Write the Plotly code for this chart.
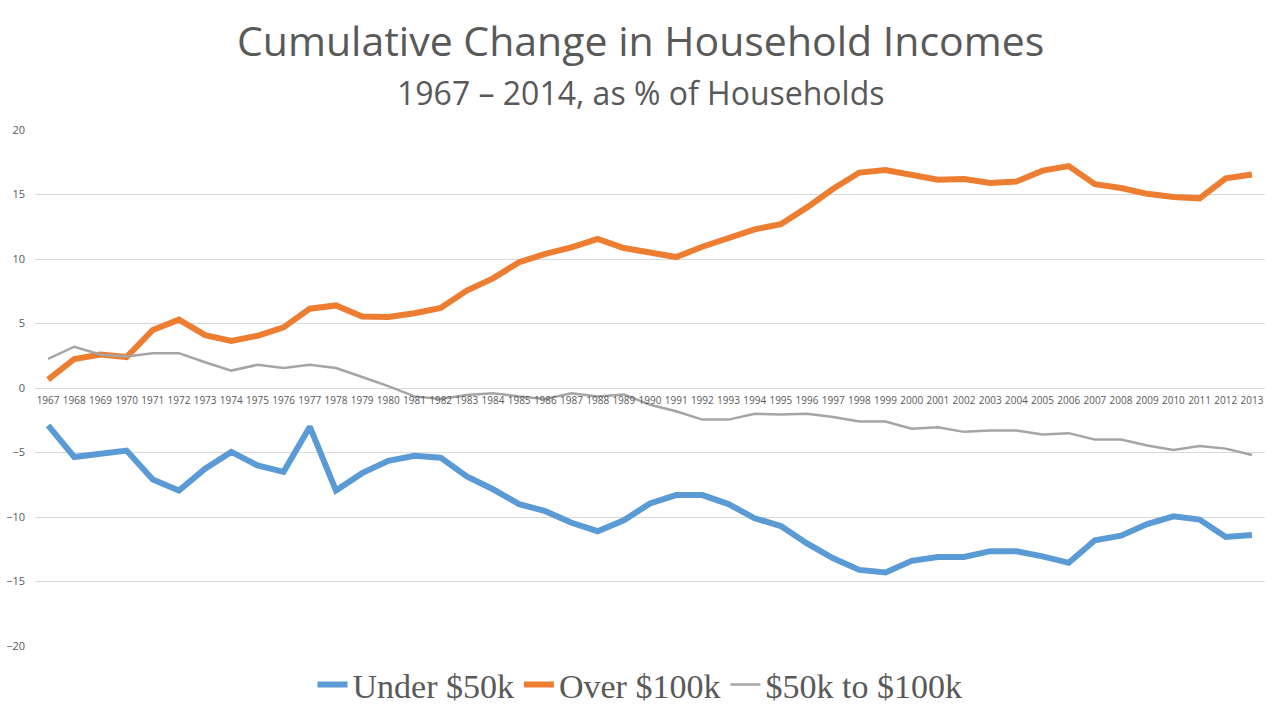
import plotly.graph_objects as go

years = [str(y) for y in range(1967, 2014)]

under_50k = [-2.9, -5.35, -5.1, -4.85, -7.1, -7.95, -6.25, -4.95, -6.0, -6.5,
             -3.0, -7.95, -6.6, -5.65, -5.25, -5.4, -6.85, -7.85, -9.0, -9.55,
             -10.45, -11.1, -10.25, -8.95, -8.3, -8.3, -9.0, -10.1, -10.7, -12.05,
             -13.2, -14.1, -14.3, -13.4, -13.1, -13.1, -12.65, -12.65, -13.05, -13.55,
             -11.8, -11.45, -10.55, -9.95, -10.2, -11.55, -11.4]

over_100k = [0.65, 2.25, 2.6, 2.4, 4.5, 5.3, 4.1, 3.65, 4.05, 4.7,
             6.15, 6.4, 5.55, 5.5, 5.8, 6.2, 7.55, 8.5, 9.75, 10.4,
             10.9, 11.55, 10.85, 10.45, 10.15, 10.95, 11.6, 12.3, 12.7, 14.0,
             15.45, 16.7, 16.9, 16.55, 16.15, 16.2, 15.9, 16.0, 16.85, 17.2,
             15.8, 15.5, 15.05, 14.8, 14.7, 16.25, 16.55]

mid_50_100k = [2.25, 3.2, 2.6, 2.45, 2.7, 2.7, 2.0, 1.35, 1.8, 1.55,
               1.8, 1.55, 0.85, 0.15, -0.65, -0.85, -0.55, -0.4, -0.65, -0.85,
               -0.4, -0.65, -0.5, -1.3, -1.8, -2.45, -2.45, -2.0, -2.05, -2.0,
               -2.25, -2.6, -2.6, -3.15, -3.05, -3.4, -3.3, -3.3, -3.6, -3.5,
               -4.0, -4.0, -4.45, -4.8, -4.5, -4.7, -5.2]

y_ticks = [-20, -15, -10, -5, 0, 5, 10, 15, 20]

W, H = 1280, 720
M_L, M_R, M_T, M_B = 35, 15, 130, 74
PLOT_W = W - M_L - M_R
PLOT_H = H - M_T - M_B


def paper_y(px):
    return (H - M_B - px) / PLOT_H


def paper_x(px):
    return (px - M_L) / PLOT_W


fig = go.Figure()
fig.add_trace(go.Scatter(x=years, y=under_50k, name="Under $50k", mode="lines",
                         line=dict(color="#5B9BD5", width=6)))
fig.add_trace(go.Scatter(x=years, y=over_100k, name="Over $100k", mode="lines",
                         line=dict(color="#ED7D31", width=6)))
fig.add_trace(go.Scatter(x=years, y=mid_50_100k, name="$50k to $100k", mode="lines",
                         line=dict(color="#A5A5A5", width=2.5)))

fig.update_layout(
    width=W, height=H,
    margin=dict(l=M_L, r=M_R, t=M_T, b=M_B, autoexpand=False),
    paper_bgcolor="white", plot_bgcolor="white",
    showlegend=True,
    legend=dict(orientation="h", x=paper_x(640), xanchor="center",
                y=paper_y(685), yanchor="middle",
                font=dict(family="Liberation Serif", size=34, color="#595959"),
                itemwidth=30, tracegroupgap=0),
    annotations=[
        dict(text="Cumulative Change in Household Incomes", x=paper_x(640), y=paper_y(40),
             xref="paper", yref="paper", yanchor="middle", showarrow=False,
             font=dict(family="Open Sans", size=41, color="#595959")),
        dict(text="1967 \u2013 2014, as % of Households", x=paper_x(641), y=paper_y(92),
             xref="paper", yref="paper", yanchor="middle", showarrow=False,
             font=dict(family="Open Sans", size=32, color="#595959")),
    ],
    xaxis=dict(type="category", range=[-0.5, 46.5], anchor="free", position=0.5,
               showgrid=False, showline=False, ticks="", tickangle=0,
               ticklabelstandoff=5, automargin=False,
               tickfont=dict(family="Open Sans", size=10, color="#595959")),
    yaxis=dict(range=[-20, 20], tickvals=y_ticks, showgrid=True, gridcolor="#D9D9D9",
               gridwidth=1, zeroline=True, zerolinecolor="#D9D9D9", zerolinewidth=1,
               showline=False, ticks="", ticklabelstandoff=9, automargin=False,
               tickfont=dict(family="Open Sans", size=11, color="#595959")),
)

fig.write_html("out.html", config={"displayModeBar": False},
               post_script="document.body.style.margin='0';")
